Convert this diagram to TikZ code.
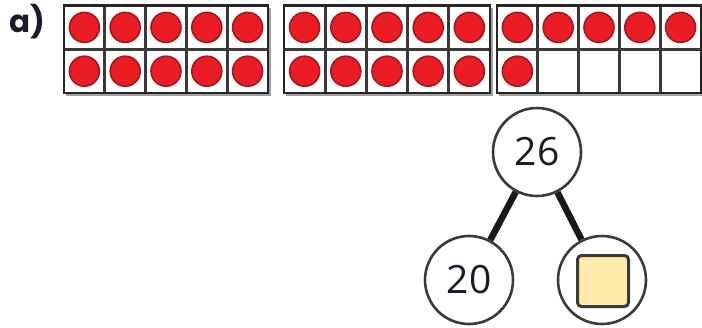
\documentclass[tikz,border=0pt]{standalone}
\usepackage{fontspec}
\setmainfont{Open Sans}
\newfontfamily\partfont{Poppins}
\usepackage{tikz}
\usetikzlibrary{positioning}

\definecolor{dotred}{HTML}{EC1C24}
\definecolor{dotrim}{HTML}{9E1A1E}
\definecolor{framegray}{HTML}{3A3A3A}
\definecolor{shadowgray}{HTML}{A0A0A0}
\definecolor{boxyellow}{HTML}{FFEBA8}
\definecolor{inkdark}{HTML}{181C28}

\begin{document}
\begin{tikzpicture}[
    x=1pt, y=-1pt,
    cellline/.style={draw=framegray, line width=2.8pt},
    counter/.style={circle, fill=dotred, draw=dotrim, line width=1.6pt, minimum size=30pt, inner sep=0pt},
    bond/.style={circle, draw=framegray, line width=2.6pt, minimum size=88pt, inner sep=0pt, font=\fontsize{39}{40}\selectfont, text=inkdark},
    answerbox/.style={rectangle, rounded corners=4pt, draw=framegray, line width=3pt, fill=boxyellow, minimum size=51pt, inner sep=0pt},
    link/.style={line width=6.5pt, draw=black!90}
]
\useasboundingbox (0,0) rectangle (702,327);

% Label
\node[font=\partfont\bfseries\fontsize{31}{31}\selectfont, text=inkdark, anchor=base west, inner sep=0pt] (label) at (9,32) {a)};

% Ten frames
\foreach \f/\fx/\fw/\n in {1/64/204/10, 2/284/206/10, 3/497/204/6} {
    \draw[shadowgray, line width=2pt] (\fx+2,95) -- (\fx+\fw+2,95) -- (\fx+\fw+2,8);
    \fill[white] (\fx,5.5) rectangle (\fx+\fw,93);
    \foreach \c in {1,...,4}
        \draw[cellline] (\fx+\c*\fw/5,5.5) -- (\fx+\c*\fw/5,93);
    \draw[cellline] (\fx,49.25) -- (\fx+\fw,49.25);
    \draw[cellline, draw=black!85] (\fx,5.5) rectangle (\fx+\fw,93);
    % counters
    \foreach \k in {1,...,\n} {
        \pgfmathtruncatemacro\col{mod(\k-1,5)}
        \pgfmathtruncatemacro\row{(\k-1)/5}
        \node[counter] (dot-\f-\k) at (\fx+\col*\fw/5+\fw/10, 27.4+\row*43.8) {};
    }
}

% Number bond
\node[bond] (whole) at (537,152) {26};
\node[bond] (partA) at (469,280) {20};
\node[bond] (partB) at (602,280) {};
\node[answerbox] (blank) at (603,281) {};

% Links
\draw[link] (whole) -- (partA);
\draw[link] (whole) -- (partB);

\end{tikzpicture}
\end{document}
